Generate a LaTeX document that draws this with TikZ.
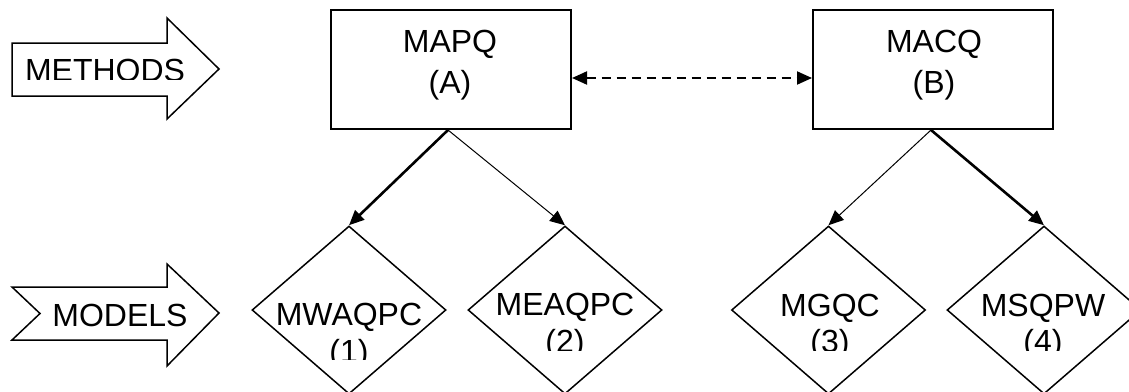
\documentclass[tikz,border=0pt]{standalone}
\usepackage{fontspec}
\setmainfont{Liberation Sans}
\usetikzlibrary{shapes.geometric,arrows.meta}
\tikzset{
  box/.style={draw, line width=2pt, minimum width=240pt, minimum height=119pt, inner sep=0pt},
  dia/.style={draw, diamond, line width=1.5pt, minimum width=194pt, minimum height=168pt, inner sep=0pt},
  txt/.style={anchor=base, inner sep=0pt, font=\fontsize{32}{38}\selectfont},
  bigarrow/.style={draw, line width=1.5pt, line join=miter},
  tipA/.tip={Triangle[length=15pt,width=13pt]},
  thickconn/.style={line width=2.6pt, -tipA},
  thinconn/.style={line width=1pt, -tipA},
  dashconn/.style={line width=2pt, dash pattern=on 9pt off 6pt, tipA-tipA},
}
\begin{document}
\begin{tikzpicture}[x=1pt,y=-1pt]
\useasboundingbox (0,0) rectangle (1129,391);

% side arrows
\draw[bigarrow] (12,43) -- (167,43) -- (167,18) -- (219,69) -- (167,119) -- (167,96) -- (12,96) -- cycle;
\begin{scope}
  \clip (0,0) rectangle (230,79);
  \node[txt] (meth) at (105,81) {METHODS};
\end{scope}
\draw[bigarrow] (12,287) -- (167,287) -- (167,264) -- (219,313) -- (167,366) -- (167,340) -- (12,340) -- (40,313.5) -- cycle;
\node[txt] (mod) at (120,326) {MODELS};

% method boxes
\node[box] (A) at (451,69.5) {};
\node[txt] (At1) at (450,52) {MAPQ};
\node[txt] (At2) at (450,93) {(A)};
\node[box] (B) at (933,69.5) {};
\node[txt] (Bt1) at (934,52) {MACQ};
\node[txt] (Bt2) at (934,93) {(B)};

% dashed relation
\draw[dashconn] ([yshift=-8.5pt]A.east) -- ([yshift=-8.5pt]B.west);

% model diamonds
\node[dia] (d1) at (349,310) {};
\node[dia] (d2) at (565,310) {};
\node[dia] (d3) at (828.5,310) {};
\node[dia] (d4) at (1044,310) {};

\node[txt] (d1a) at (349,325) {MWAQPC};
\begin{scope}
  \clip (240,330) rectangle (460,359);
  \node[txt] (d1b) at (349,362) {(1)};
\end{scope}
\node[txt] (d2a) at (565,315) {MEAQPC};
\begin{scope}
  \clip (460,320) rectangle (670,350);
  \node[txt] (d2b) at (565,352) {(2)};
\end{scope}
\node[txt] (d3a) at (830,316) {MGQC};
\begin{scope}
  \clip (730,320) rectangle (930,350);
  \node[txt] (d3b) at (830,352) {(3)};
\end{scope}
\node[txt] (d4a) at (1043,316) {MSQPW};
\begin{scope}
  \clip (940,320) rectangle (1129,350);
  \node[txt] (d4b) at (1043,352) {(4)};
\end{scope}

% connectors
\draw[thickconn] ([xshift=-3pt]A.south) -- (d1.north);
\draw[thinconn]  ([xshift=-3pt]A.south) -- (d2.north);
\draw[thinconn]  ([xshift=-2pt]B.south) -- (d3.north);
\draw[thickconn] ([xshift=-2pt]B.south) -- (d4.north);
\end{tikzpicture}
\end{document}
